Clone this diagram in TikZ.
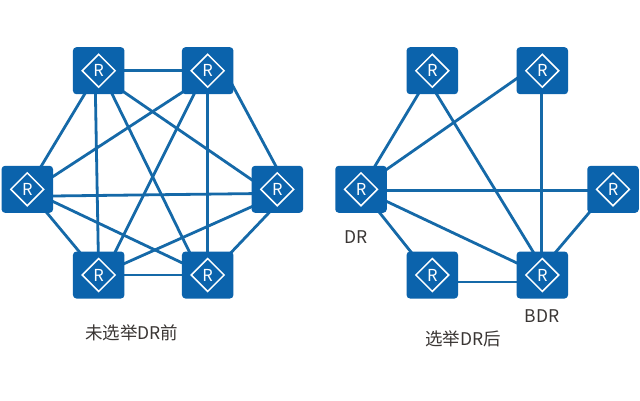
\documentclass[tikz,border=0pt]{standalone}
\usepackage{fontspec}
\setmainfont{Noto Sans CJK SC}[Scale=1]
\usetikzlibrary{shapes.geometric,backgrounds}
\definecolor{routerblue}{HTML}{0B63AC}
\definecolor{linkblue}{HTML}{1569A8}
\definecolor{labelgray}{HTML}{3A3634}
\tikzset{
  x=1pt,y=-1pt,
  rbox/.style={fill=routerblue,rounded corners=3.5pt,minimum width=51.5pt,minimum height=47pt,inner sep=0pt},
  rdia/.style={diamond,draw=white,line width=1.5pt,aspect=1,minimum width=33.5pt,minimum height=33.5pt,inner sep=0pt,text=white,font=\fontsize{16.5}{16.5}\selectfont},
  link/.style={draw=linkblue,line width=2.8pt},
  caption text/.style={text=labelgray,inner sep=0pt,font=\fontsize{17.5}{18}\selectfont},
}
\newcommand{\router}[3]{%
  \node[rbox] (#1) at (#2,#3) {};
  \node[rdia] (#1d) at (#1) {R};
}
\newcommand{\lnk}[6]{\draw[link] ([shift={(#2pt,#3pt)}]#1.center) -- ([shift={(#5pt,#6pt)}]#4.center);}
\begin{document}
\begin{tikzpicture}
\useasboundingbox (0,0) rectangle (640,400);
\router{atl}{98.7}{70.7}
\router{atr}{207.7}{70.7}
\router{al}{27.3}{189.3}
\router{ar}{277.3}{189.3}
\router{abl}{98.7}{275}
\router{abr}{207.7}{275}
\router{btl}{432.3}{70.7}
\router{btr}{542.3}{70.7}
\router{bl}{361}{189.3}
\router{br}{613}{189.3}
\router{bbl}{432.3}{275}
\router{bbr}{542.3}{275}
\begin{scope}[on background layer]
\fill[white] (0,0) rectangle (640,400);
\lnk{atl}{0}{0}{atr}{0}{0}
\lnk{atl}{0}{0}{al}{0}{0}
\lnk{atl}{-3.7}{0}{abl}{0}{0}
\lnk{atl}{2}{0}{abr}{-7}{0}
\lnk{atl}{0}{-4}{ar}{0}{-8}
\lnk{atr}{0}{-5}{al}{0}{-4}
\lnk{atr}{-2}{0}{abl}{5}{0}
\lnk{atr}{0}{0}{abr}{0}{0}
\lnk{atr}{17}{0}{ar}{11}{0}
\lnk{al}{0}{-7}{ar}{0}{-4}
\lnk{al}{0}{0}{abl}{0}{0}
\lnk{al}{0}{0}{abr}{0}{0}
\lnk{ar}{0}{-6}{abl}{0}{0}
\lnk{ar}{14}{0}{abr}{2}{0}
\lnk{abl}{0}{0}{abr}{0}{0}
\lnk{btl}{0}{0}{bl}{0}{0}
\lnk{btl}{-10}{0}{bbr}{5}{0}
\lnk{btr}{0}{10}{bl}{0}{2}
\lnk{btr}{-1}{0}{bbr}{-1}{0}
\lnk{bl}{0}{-1}{br}{0}{-1}
\lnk{bl}{0}{0}{bbl}{-3}{0}
\lnk{bl}{0}{0}{bbr}{0}{0}
\lnk{br}{-4}{0}{bbr}{-6}{0}
\lnk{bbl}{0}{-7}{bbr}{0}{-7}
\end{scope}
\node[caption text] (capa) at (131.7,333) {未选举DR前};
\node[caption text] (capb) at (463,339) {选举DR后};
\node[caption text] (dr) at (356,237) {DR};
\node[caption text] (bdr) at (542,316) {BDR};
\end{tikzpicture}
\end{document}
